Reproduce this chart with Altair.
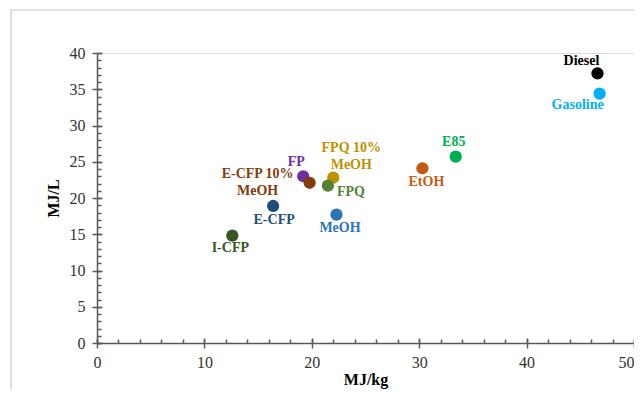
import altair as alt
import pandas as pd

# ---- data ----
fuels = ["Diesel", "Gasoline", "E85", "EtOH", "FPQ 10% MeOH", "FP",
         "E-CFP 10% MeOH", "FPQ", "MeOH", "E-CFP", "I-CFP"]
mj_per_kg = [46.6, 46.8, 33.4, 30.3, 22.0, 19.2, 19.8, 21.5, 22.3, 16.4, 12.6]
mj_per_l = [37.2, 34.4, 25.7, 24.1, 22.8, 23.0, 22.1, 21.7, 17.7, 18.9, 14.8]
labels = ["Diesel", "Gasoline", "E85", "EtOH", "FPQ 10%\nMeOH", "FP",
          "E-CFP 10%\nMeOH", "FPQ", "MeOH", "E-CFP", "I-CFP"]
x_major = [0, 10, 20, 30, 40, 50]
x_minor = list(range(0, 51, 2))
y_major = [0, 5, 10, 15, 20, 25, 30, 35, 40]
y_minor = list(range(0, 41, 1))

# ---- styles ----
colors = ["#000000", "#00B0F0", "#00B050", "#C55A11", "#BF9000", "#7030A0",
          "#843C0C", "#548235", "#2E75B6", "#1F4E79", "#375623"]
label_offsets = {  # (dx, dy) of each label (first line) relative to its point
    "Diesel": (-16, -12), "Gasoline": (-22, 11), "E85": (-2, -14.5),
    "EtOH": (4, 14), "FPQ 10% MeOH": (18, -30), "FP": (-7, -14),
    "E-CFP 10% MeOH": (-52, -8.5), "FPQ": (23, 6), "MeOH": (3.5, 13),
    "E-CFP": (1, 14), "I-CFP": (-2, 12.5),
}
SERIF = "Liberation Serif, Times New Roman, serif"
AX = "#595959"

df = pd.DataFrame({"fuel": fuels, "kg": mj_per_kg, "L": mj_per_l, "label": labels})

xs = alt.Scale(domain=[0, 50], nice=False, zero=False)
ys = alt.Scale(domain=[0, 40], nice=False, zero=False)
cs = alt.Scale(domain=fuels, range=colors)

base = alt.Chart(df)

x_main = alt.Axis(orient="bottom", values=x_major, tickSize=5, tickWidth=1.5, tickColor=AX,
                  domainColor=AX, domainWidth=1.5, grid=False, labelOverlap=False,
                  labelFont=SERIF, labelFontSize=16, labelColor="#333333", labelPadding=6,
                  labelFlush=False,
                  labelAlign={"expr": "datum.value == 50 ? 'right' : 'center'"},
                  title="MJ/kg", titleFont=SERIF, titleFontSize=16, titleFontWeight="bold",
                  titleColor="#000000", titlePadding=1)
y_main = alt.Axis(orient="left", values=y_major, tickSize=5, tickWidth=1.5, tickColor=AX,
                  domainColor=AX, domainWidth=1.5, grid=False, labelOverlap=False,
                  labelFont=SERIF, labelFontSize=16, labelColor="#333333", labelPadding=7,
                  title="MJ/L", titleFont=SERIF, titleFontSize=16, titleFontWeight="bold",
                  titleColor="#000000", titlePadding=8)

frame = base.mark_rect(fill=None, stroke="#c8c8c8", strokeWidth=1.2).encode(
    x=alt.value(-86), x2=alt.value(900), y=alt.value(-43), y2=alt.value(900)
).transform_filter(alt.datum.fuel == "Diesel")

points = base.mark_circle(size=150, opacity=1).encode(
    x=alt.X("kg:Q", scale=xs, axis=x_main),
    y=alt.Y("L:Q", scale=ys, axis=y_main),
    color=alt.Color("fuel:N", scale=cs, legend=None),
)


def tick_layer(xvals, yvals, size):
    ax_x = alt.Axis(orient="bottom", values=xvals, tickSize=size, tickWidth=1.5, tickColor=AX,
                    offset=-size, domain=False, labels=False, grid=False, title=None)
    ax_y = alt.Axis(orient="left", values=yvals, tickSize=size, tickWidth=1.5, tickColor=AX,
                    offset=-size, domain=False, labels=False, grid=False, title=None)
    return base.mark_point(opacity=0).encode(
        x=alt.X("kg:Q", scale=xs, axis=ax_x),
        y=alt.Y("L:Q", scale=ys, axis=ax_y),
    )


inner_major = tick_layer(x_major, y_major, 5)
inner_minor = tick_layer(x_minor, y_minor, 4)

text_layers = []
for f in fuels:
    dx, dy = label_offsets[f]
    text_layers.append(
        base.transform_filter(alt.datum.fuel == f).mark_text(
            font=SERIF, fontSize=14, fontWeight="bold", align="center", baseline="middle",
            lineBreak="\n", lineHeight=17, dx=dx, dy=dy
        ).encode(
            x=alt.X("kg:Q", scale=xs, axis=None),
            y=alt.Y("L:Q", scale=ys, axis=None),
            text="label:N",
            color=alt.Color("fuel:N", scale=cs, legend=None),
        )
    )

chart = alt.layer(frame, inner_minor, inner_major, points, *text_layers).resolve_scale(
    x="shared", y="shared"
).resolve_axis(x="independent", y="independent").properties(
    width=537, height=290,
    autosize=alt.AutoSizeParams(type="none"),
    padding={"left": 89, "top": 45, "right": 0, "bottom": 46},
).configure_view(stroke=None).configure(background="white")

chart.save("out.html", embed_options={"renderer": "svg", "actions": False})
